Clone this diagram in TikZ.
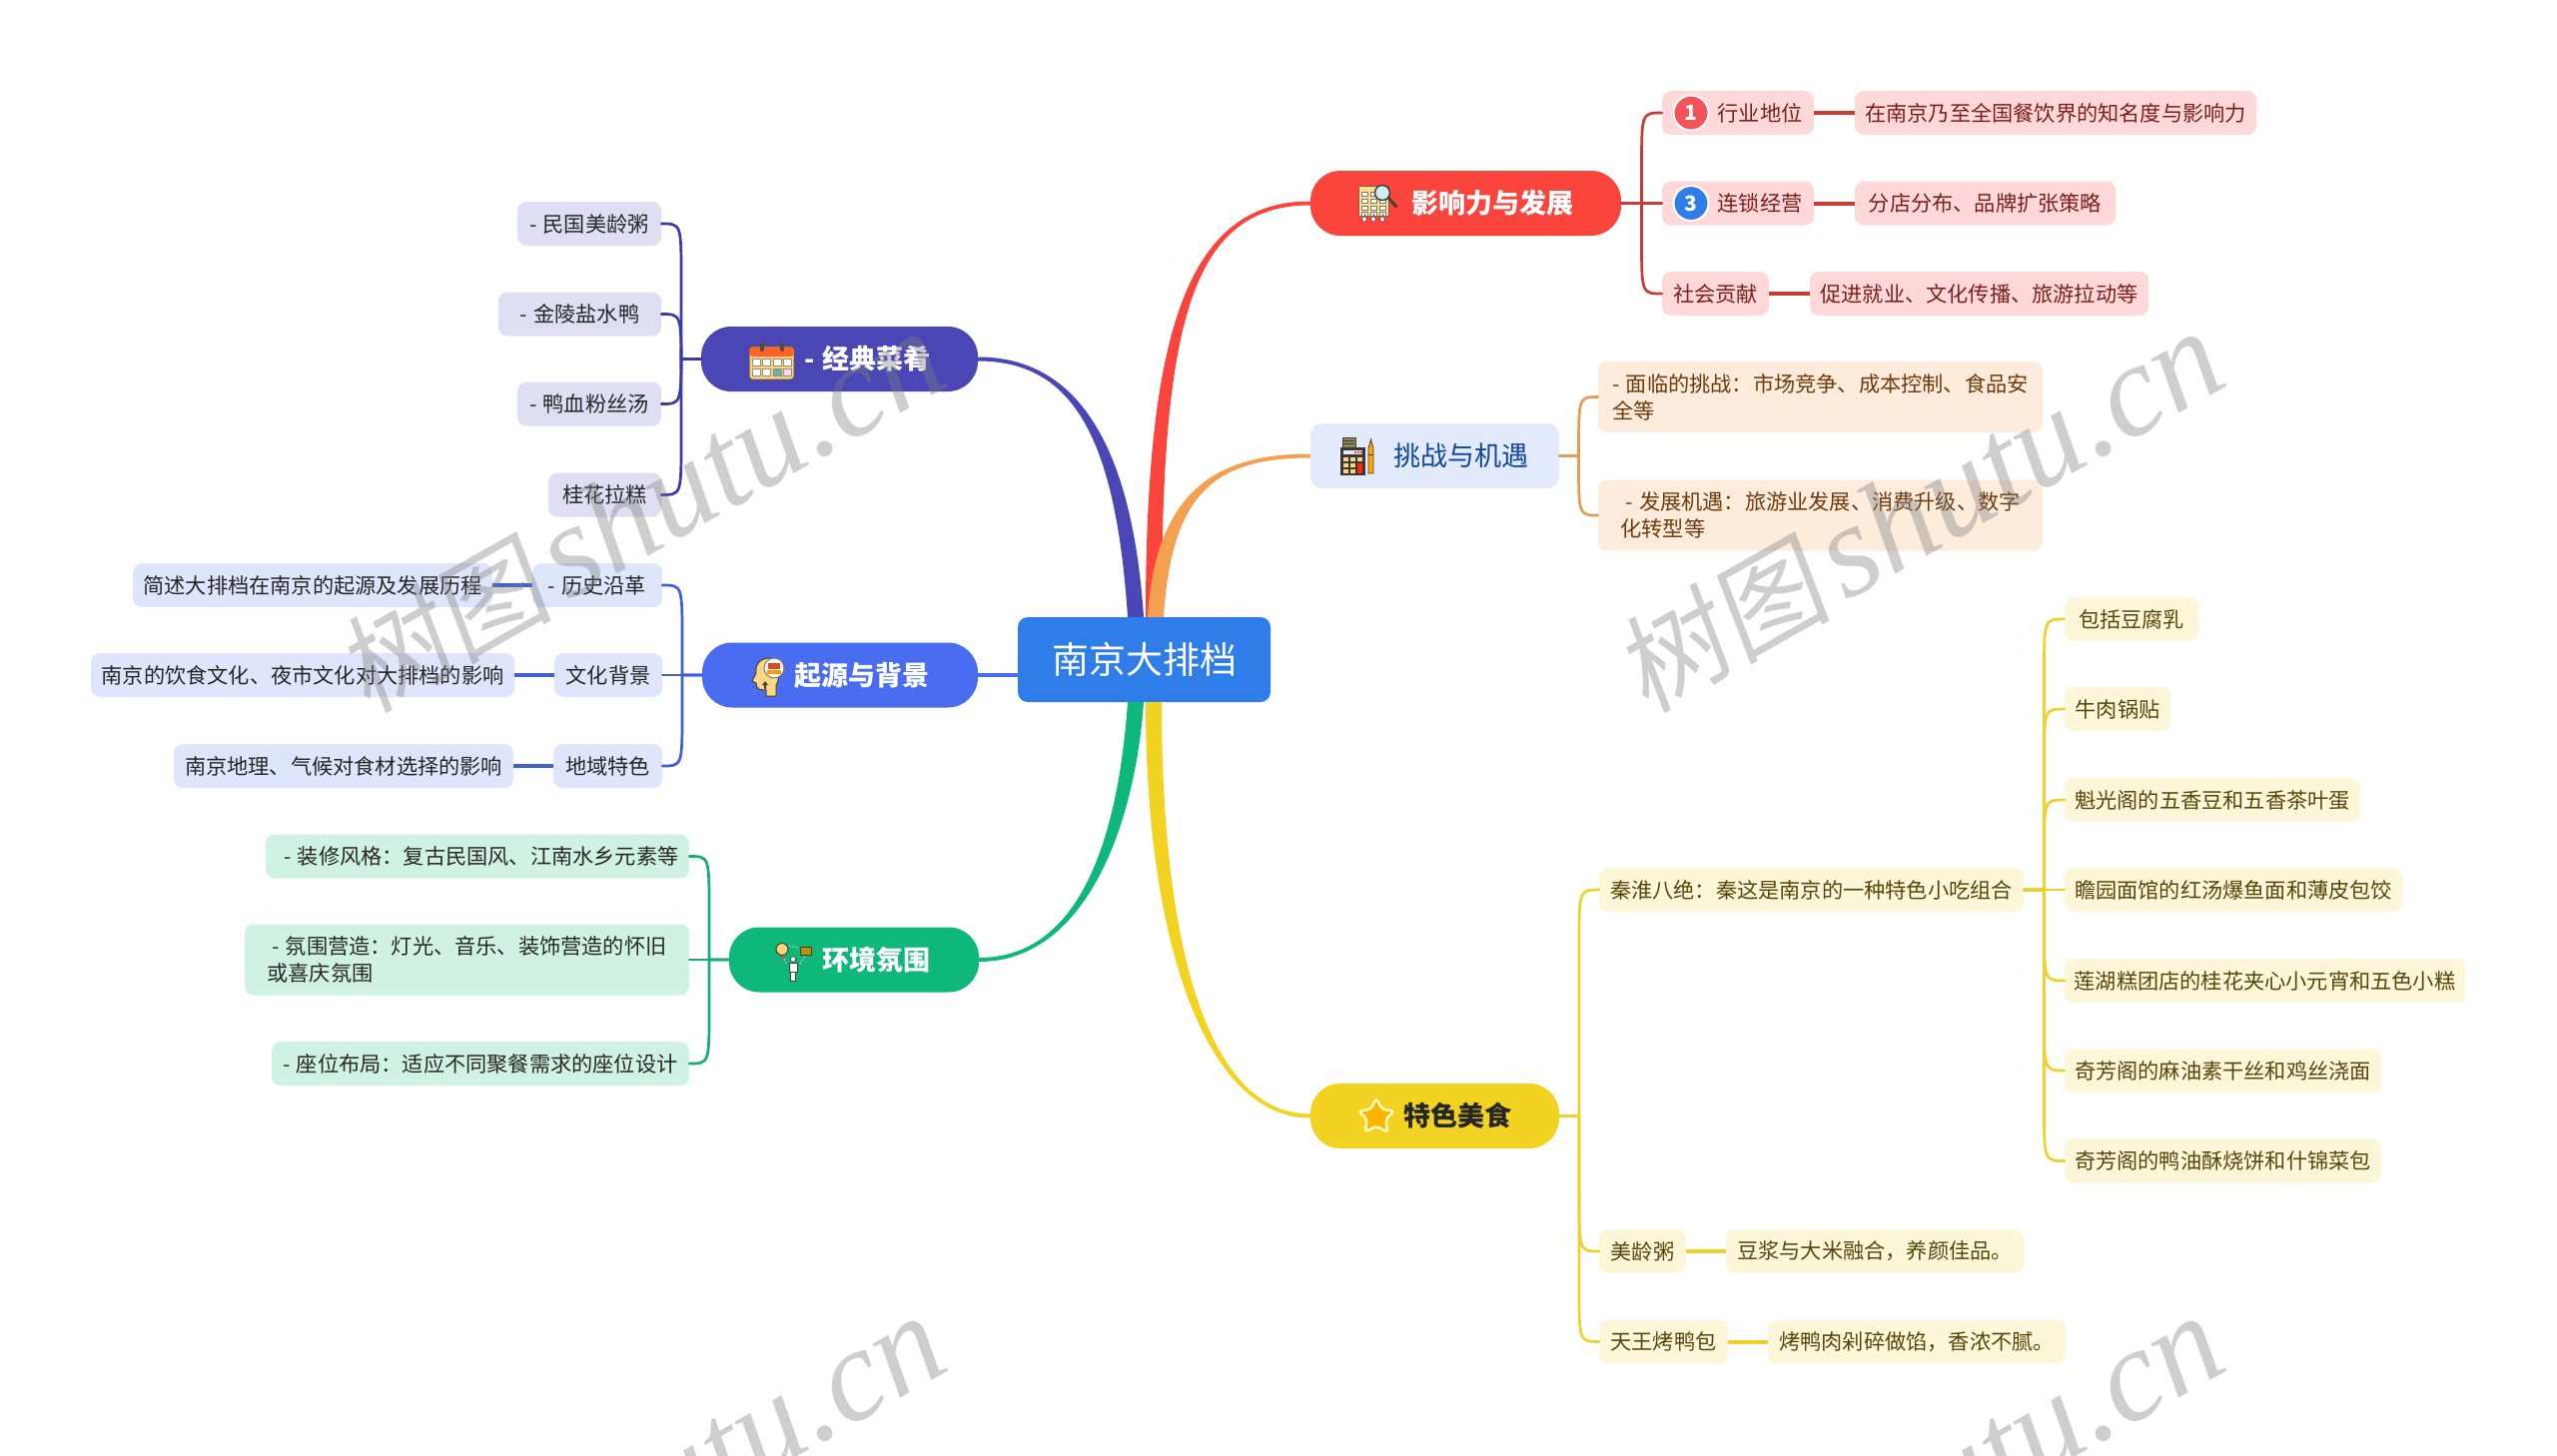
\documentclass[tikz,border=0pt]{standalone}
\usepackage{fontspec}
\setmainfont{Noto Sans CJK SC}
\newfontfamily\wmserif{Liberation Serif}
\newfontfamily\wmcjk[FakeSlant=0.15]{Noto Sans CJK SC}
\usetikzlibrary{calc}
\definecolor{cRed}{HTML}{FB443C}\definecolor{cRedL}{HTML}{FFD9D9}\definecolor{cRedT}{HTML}{7A1F1A}\definecolor{cRedC}{HTML}{CB3B35}
\definecolor{cBadge}{HTML}{F4535A}
\definecolor{cOrg}{HTML}{F4A050}\definecolor{cOrgL}{HTML}{FDECDC}\definecolor{cOrgT}{HTML}{6F3A0C}\definecolor{cOrgC}{HTML}{E49C50}
\definecolor{cTopicB}{HTML}{E3EAFB}\definecolor{cTopicBT}{HTML}{12489C}
\definecolor{cInd}{HTML}{4A46B6}\definecolor{cIndL}{HTML}{DFDFF4}\definecolor{cIndC}{HTML}{3D39A6}
\definecolor{cBlu}{HTML}{4A6CF0}\definecolor{cBluL}{HTML}{DFE5FB}\definecolor{cBluC}{HTML}{3F5FD2}
\definecolor{cGrn}{HTML}{0DB87A}\definecolor{cGrnL}{HTML}{CFF2E4}\definecolor{cGrnC}{HTML}{14AD74}
\definecolor{cYel}{HTML}{F2D321}\definecolor{cYelL}{HTML}{FDF7D9}\definecolor{cYelT}{HTML}{574608}\definecolor{cYelC}{HTML}{F0D029}
\definecolor{cRoot}{HTML}{2F7DE9}
\definecolor{icoD}{HTML}{4A3F2A}\definecolor{icoY}{HTML}{F9DE8C}
\tikzset{
  x=1pt,y=-1pt,
  base/.style={rectangle,inner sep=0pt,align=left},
  leaf/.style={base,rounded corners=9pt,font=\fontsize{21.2}{27}\selectfont},
  rl/.style={leaf,fill=cRedL,text=cRedT},
  ol/.style={leaf,fill=cOrgL,text=cOrgT},
  il/.style={leaf,fill=cIndL,text=black!85},
  bl/.style={leaf,fill=cBluL,text=black!85},
  gl/.style={leaf,fill=cGrnL,text=black!85},
  yl/.style={leaf,fill=cYelL,text=cYelT},
  pill/.style={base,rounded corners=30pt,font=\fontsize{27}{32}\selectfont\bfseries,text=white},
  rootbox/.style={base,rounded corners=10pt,fill=cRoot,text=white,font=\fontsize{37}{44}\selectfont},
  badge/.style={circle,draw=white,line width=2pt,minimum size=35pt,inner sep=0pt,text=white,font=\fontsize{21}{24}\selectfont\bfseries},
  spine/.style={line width=2.7pt,line cap=round,line join=round},
  link/.style={line width=4pt},
  wm/.style={text=black!50,opacity=.38,rotate=29.5},
}
\newcommand\wmtext{{\wmcjk\fontsize{108}{120}\selectfont 树图}\hspace{14pt}{\wmserif\itshape\fontsize{132}{134}\selectfont shutu.cn}}
\newcommand\dd{-\hspace{1.5pt} }
\newcommand\nd[7]{\node[#1,minimum width={#4-#3},minimum height=#6] (#2) at ({(#3+#4)/2},#5) {#7};}
\newcommand\branch[3]{\coordinate (s) at ($(#2)!.5!(#2 -| #3)$);
  \coordinate (k) at (s |- #3);
  \draw[spine,draw=#1] (#2) -- (s) -- ($(k)!55pt!(s)$) .. controls (k) .. (#3);}
\newcommand\taper[6]{\fill[#1] ($(#2)+(-8,0)$) .. controls ($(#2)+(-8,0)+(#4)$) and ($(#3)+(0,#6*2)+(#5)$) .. ($(#3)+(0,#6*2)$)
   -- ($(#3)+(0,-#6*2)$) .. controls ($(#3)+(0,-#6*2)+(#5)$) and ($(#2)+(8,0)+(#4)$) .. ($(#2)+(8,0)$) -- cycle;}
\begin{document}
\begin{tikzpicture}
\useasboundingbox (0,0) rectangle (2560,1457);
\fill[white] (0,0) rectangle (2560,1457);

% root
\nd{rootbox}{root}{1019}{1272}{660.5}{85}{南京大排档}

% topics
\nd{pill,fill=cRed}{tA}{1312}{1623}{203.5}{65}{\hspace*{54pt}影响力与发展}
\nd{base,rounded corners=12pt,fill=cTopicB,text=cTopicBT,font=\fontsize{27}{32}\selectfont}{tB}{1312}{1561}{456.5}{65}{\hspace*{52pt}挑战与机遇}
\nd{pill,fill=cInd}{tC}{702}{979}{359.5}{65}{\hspace*{56pt}\dd 经典菜肴}
\nd{pill,fill=cBlu}{tD}{703}{979}{676}{65}{\hspace*{44pt}起源与背景}
\nd{pill,fill=cGrn}{tE}{730}{980}{961}{65}{\hspace*{44pt}环境氛围}
\nd{pill,fill=cYel,text=black!85}{tF}{1312}{1561}{1117.5}{65}{\hspace*{46pt}特色美食}

% red
\nd{rl}{a1}{1664}{1816}{113}{44}{\hspace*{44pt}行业地位}
\nd{rl}{a1x}{1857}{2259}{113}{44}{在南京乃至全国餐饮界的知名度与影响力}
\nd{rl}{a2}{1664}{1816}{203.5}{44}{\hspace*{44pt}连锁经营}
\nd{rl}{a2x}{1857}{2118}{203.5}{44}{分店分布、品牌扩张策略}
\nd{rl}{a3}{1664}{1771}{294}{44}{社会贡献}
\nd{rl}{a3x}{1812}{2151}{294}{44}{促进就业、文化传播、旅游拉动等}
\node[badge,fill=cBadge] (b1) at (1693,113) {1};
\node[badge,fill=cRoot] (b3) at (1693,203.5) {3};

% orange
\nd{ol}{b1n}{1600}{2045}{397.5}{71}{\dd 面临的挑战：市场竞争、成本控制、食品安\\全等}
\nd{ol}{b2n}{1600}{2045}{516}{71}{\hspace*{5pt}\dd 发展机遇：旅游业发展、消费升级、数字\\化转型等}

% indigo
\nd{il}{c1}{518}{662}{224}{44}{\dd 民国美龄粥}
\nd{il}{c2}{499}{662}{314.5}{44}{\dd 金陵盐水鸭}
\nd{il}{c3}{518}{662}{404.5}{44}{\dd 鸭血粉丝汤}
\nd{il}{c4}{549}{662}{495.5}{44}{桂花拉糕}

% blue
\nd{bl}{d1}{533}{663}{586}{44}{\dd 历史沿革}
\nd{bl}{d1x}{133}{493}{586}{44}{简述大排档在南京的起源及发展历程}
\nd{bl}{d2}{555}{663}{676}{44}{文化背景}
\nd{bl}{d2x}{91}{515}{676}{44}{南京的饮食文化、夜市文化对大排档的影响}
\nd{bl}{d3}{554}{663}{767}{44}{地域特色}
\nd{bl}{d3x}{174}{514}{767}{44}{南京地理、气候对食材选择的影响}

% green
\nd{gl}{e1}{266}{690}{857.5}{44}{\hspace*{8pt}\dd 装修风格：复古民国风、江南水乡元素等}
\nd{gl}{e2}{245}{690}{961}{71}{\hspace*{5pt}\dd 氛围营造：灯光、音乐、装饰营造的怀旧\\或喜庆氛围}
\nd{gl}{e3}{272}{690}{1065}{44}{\dd 座位布局：适应不同聚餐需求的座位设计}

% yellow
\nd{yl}{f1}{1601}{2026}{891}{44}{秦淮八绝：秦这是南京的一种特色小吃组合}
\nd{yl}{f2}{1601}{1688}{1253}{44}{美龄粥}
\nd{yl}{f2x}{1728}{2026}{1253}{44}{豆浆与大米融合，养颜佳品。}
\nd{yl}{f3}{1601}{1730}{1343.5}{44}{天王烤鸭包}
\nd{yl}{f3x}{1770}{2068}{1343.5}{44}{烤鸭肉剁碎做馅，香浓不腻。}
\nd{yl}{g1}{2067}{2201}{620}{44}{包括豆腐乳}
\nd{yl}{g2}{2067}{2173}{710}{44}{牛肉锅贴}
\nd{yl}{g3}{2067}{2363}{801}{44}{魁光阁的五香豆和五香茶叶蛋}
\nd{yl}{g4}{2067}{2405}{891}{44}{瞻园面馆的红汤爆鱼面和薄皮包饺}
\nd{yl}{g5}{2067}{2468}{982}{44}{莲湖糕团店的桂花夹心小元宵和五色小糕}
\nd{yl}{g6}{2067}{2384}{1072}{44}{奇芳阁的麻油素干丝和鸡丝浇面}
\nd{yl}{g7}{2067}{2384}{1162.5}{44}{奇芳阁的鸭油酥烧饼和什锦菜包}

% main tapered connectors
\coordinate (rI) at ($(root.north)+(-8.5,0)$);
\coordinate (rR) at ($(root.north)+(9.5,0)$);
\coordinate (rO) at ($(root.north)+(11.5,0)$);
\coordinate (rG) at ($(root.south)+(-8.5,0)$);
\coordinate (rY) at ($(root.south)+(9.5,0)$);
\taper{cInd}{rI}{tC.east}{-12,-178}{96,0}{1}
\taper{cRed}{rR}{tA.west}{0,-288}{-122,0}{-1}
\taper{cOrg}{rO}{tB.west}{8,-128}{-92,0}{-1}
\taper{cGrn}{rG}{tE.east}{-9,127}{105,0}{-1}
\taper{cYel}{rY}{tF.west}{0,247}{-102,0}{1}
\draw[link,draw=cBlu] (tD.east) -- (root.west |- tD.east);

% red branches
\foreach \n in {a1,a3}{\branch{cRedC}{tA.east}{\n.west}}
\draw[spine,draw=cRedC] (tA.east) -- (a2.west);
\draw[link,draw=cRedC] (a1.east) -- (a1x.west);
\draw[link,draw=cRedC] (a2.east) -- (a2x.west);
\draw[link,draw=cRedC] (a3.east) -- (a3x.west);
% orange
\foreach \n in {b1n,b2n}{\branch{cOrgC}{tB.east}{\n.west}}
% indigo
\foreach \n in {c1,c2,c3,c4}{\branch{cIndC}{tC.west}{\n.east}}
% blue
\foreach \n in {d1,d3}{\branch{cBluC}{tD.west}{\n.east}}
\draw[spine,draw=cBluC] (tD.west) -- (d2.east);
\draw[link,draw=cBluC] (d1.west) -- (d1x.east);
\draw[link,draw=cBluC] (d2.west) -- (d2x.east);
\draw[link,draw=cBluC] (d3.west) -- (d3x.east);
% green
\foreach \n in {e1,e3}{\branch{cGrnC}{tE.west}{\n.east}}
\draw[spine,draw=cGrnC] (tE.west) -- (e2.east);
% yellow
\foreach \n in {f1,f2,f3}{\branch{cYelC}{tF.east}{\n.west}}
\foreach \n in {g1,g2,g3,g5,g6,g7}{\branch{cYelC}{f1.east}{\n.west}}
\draw[spine,draw=cYelC] (f1.east) -- (g4.west);
\draw[link,draw=cYelC] (f2.east) -- (f2x.west);
\draw[link,draw=cYelC] (f3.east) -- (f3x.west);

% icon: building + magnifier
\fill[icoY,draw=icoD!80,line width=1pt] (1360,186) rectangle (1390,216);
\foreach \yy in {192,199,206,212}\foreach \xx in {1363,1372,1381}{\fill[white,draw=icoD!70,line width=.7pt] (\xx,\yy) rectangle +(6,4);}
\foreach \xx in {1366,1375,1384}{\fill[white,draw=cRed!60!black,line width=.7pt] (\xx,219.5) circle (2.6);\draw[icoD,line width=1pt] (\xx,214)--(\xx,217);}
\draw[icoD,line width=3pt,line cap=round] (1390,198) -- (1398,207);
\fill[cyan!20!white,draw=icoD,line width=1.5pt] (1384,193) circle (7.5);

% icon: calculator + pen
\fill[black!55!yellow!60!gray,draw=icoD,line width=.8pt] (1344,438) rectangle (1357,448);
\foreach \yy in {441,444}{\draw[icoD,line width=.8pt] (1345,\yy)--(1356,\yy);}
\fill[black!78] (1342,448) rectangle (1367,476);
\fill[cTopicB] (1345,451) rectangle (1364,455);
\foreach \xx in {1356,1359,1362}{\fill[cRed] (\xx,452) rectangle +(1.6,1.6);}
\foreach \xx in {1345,1352}\foreach \yy in {458,464,470}{\fill[icoY!90!orange] (\xx,\yy) rectangle +(5,4);}
\fill[icoY!90!orange] (1359,458) rectangle +(5,4);
\fill[red!70!orange] (1359,464) rectangle (1364,474);
\fill[orange!70!yellow,draw=icoD,line width=.8pt] (1370,449) -- (1372.5,440) -- (1375,449) -- (1375,474) -- (1370,474) -- cycle;
\draw[icoD,line width=.8pt] (1370,455)--(1375,455);

% icon: calendar
\fill[icoY!90!orange,draw=icoD!90,line width=1pt,rounded corners=3pt] (750,347) rectangle (795,380);
\fill[red!45!orange!85!white,rounded corners=3pt] (750.5,347.5) rectangle (794.5,357);
\foreach \xx in {753,763,774,784}{\fill[white,draw=icoD!60,line width=.6pt] (\xx,359) rectangle +(8,7);}
\foreach \xx/\cc in {753/white,763/white,774/teal!60!white,784/magenta!15!white}{\fill[\cc,draw=icoD!60,line width=.6pt] (\xx,369) rectangle +(8,7);}
\foreach \xx in {763,783}{\draw[black!70,line width=4pt,line cap=round] (\xx,344.5)--(\xx,350);}

% icon: head
\fill[icoY!95!orange,draw=icoD,line width=1pt] (767,697) -- (767,691) .. controls (760,691) and (757,690) .. (757,684)
  -- (753,682) -- (757,674) .. controls (756,664) and (762,659) .. (771,659) .. controls (780,659) and (782,680) .. (777,686) -- (777,697) -- cycle;
\fill[icoD] (766,682) -- (769,686) -- (767,686) -- (767,690) -- (765,690) -- (765,686) -- (763,686) -- cycle;
\fill[white,draw=icoD!70,line width=1pt] (775,669) circle (10);
\fill[red!40!brown] (769,664) rectangle (781,670);
\fill[orange!80!yellow] (768,671) rectangle (782,675);

% icon: person, bulb, frame
\fill[icoY!90!orange,draw=icoD,line width=1pt] (783,950.5) circle (6);
\fill[icoD!70] (780.5,956.5) rectangle (785.5,961);
\fill[olive!60!orange,draw=icoD,line width=1pt] (801,948) rectangle (812,956);
\fill[white,draw=icoD,line width=.7pt] (794,960.5) circle (2.8);
\fill[white,draw=icoD,line width=.7pt] (790,964) rectangle (798,973);
\fill[white,draw=icoD,line width=.7pt] (791.5,973) rectangle (796.5,982);
\draw[white!85!black,line width=1pt,dash pattern=on 1.5pt off 2pt] (790,947) -- (799,949);
\draw[white!85!black,line width=1pt,dash pattern=on 1.5pt off 2pt] (785,960) -- (788,966);
\draw[white!85!black,line width=1pt,dash pattern=on 1.5pt off 2pt] (806,958) -- (800,966);

% icon: star
\fill[orange!60!yellow,draw=yellow!25!white,line width=2.5pt,rounded corners=4pt]
  (1378,1099.5) -- (1383.5,1111) -- (1396,1112.5) -- (1387,1121) -- (1389.5,1134) -- (1378,1127.5) -- (1366.5,1134) -- (1369,1121) -- (1360,1112.5) -- (1372.5,1111) -- cycle;

% watermarks
\begin{scope}
\clip (0,0) rectangle (2560,1457);
\node[wm] (w1) at (641,514) {\wmtext};
\node[wm] (w2) at (1921,514) {\wmtext};
\node[wm] (w3) at (641,1500) {\wmtext};
\node[wm] (w4) at (1921,1500) {\wmtext};
\end{scope}
\end{tikzpicture}
\end{document}
